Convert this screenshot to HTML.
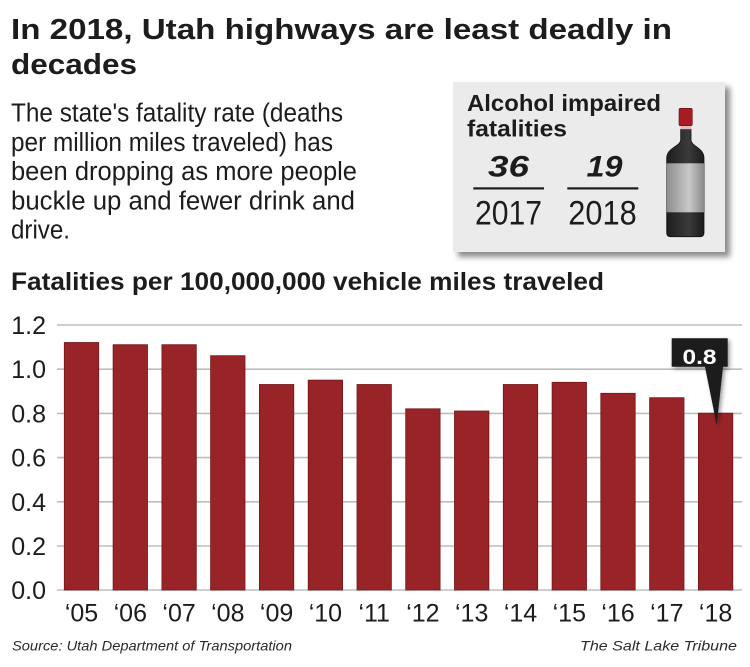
<!DOCTYPE html>
<html>
<head>
<meta charset="utf-8">
<style>
html,body{margin:0;padding:0;background:#fff;}
svg{display:block;}
text{font-family:"Liberation Sans",Arial,sans-serif;fill:#1c1c1c;}
</style>
</head>
<body>
<svg width="750" height="667" viewBox="0 0 750 667" xmlns="http://www.w3.org/2000/svg">
<defs>
<filter id="sh" x="-10%" y="-10%" width="130%" height="130%">
<feDropShadow dx="5" dy="5" stdDeviation="3" flood-color="#000" flood-opacity="0.45"/>
</filter>
<filter id="sh2" x="-20%" y="-20%" width="150%" height="150%">
<feDropShadow dx="2" dy="2" stdDeviation="2" flood-color="#000" flood-opacity="0.4"/>
</filter>
<linearGradient id="lab" x1="0" x2="1" y1="0" y2="0">
<stop offset="0" stop-color="#8e8e8e"/>
<stop offset="0.6" stop-color="#c8c8c8"/>
<stop offset="1" stop-color="#8a8a8a"/>
</linearGradient>
<linearGradient id="glass" x1="0" x2="1" y1="0" y2="0">
<stop offset="0" stop-color="#1e1e1e"/>
<stop offset="0.6" stop-color="#3a3a3a"/>
<stop offset="1" stop-color="#1a1a1a"/>
</linearGradient>
</defs>

<!-- Title -->
<text x="11" y="39" font-size="29" font-weight="bold" textLength="661" lengthAdjust="spacingAndGlyphs">In 2018, Utah highways are least deadly in</text>
<text x="11" y="74" font-size="29" font-weight="bold" textLength="126" lengthAdjust="spacingAndGlyphs">decades</text>

<!-- Subtitle -->
<g font-size="25.5">
<text x="11" y="121.7" textLength="332" lengthAdjust="spacingAndGlyphs">The state's fatality rate (deaths</text>
<text x="11" y="150.9" textLength="322" lengthAdjust="spacingAndGlyphs">per million miles traveled) has</text>
<text x="11" y="180.1" textLength="346" lengthAdjust="spacingAndGlyphs">been dropping as more people</text>
<text x="11" y="209.3" textLength="344" lengthAdjust="spacingAndGlyphs">buckle up and fewer drink and</text>
<text x="11" y="238.5" textLength="59" lengthAdjust="spacingAndGlyphs">drive.</text>
</g>

<!-- Info box -->
<rect x="453" y="82" width="272" height="170" fill="#ebebeb" filter="url(#sh)"/>
<text x="467" y="111" font-size="23" font-weight="bold" textLength="194" lengthAdjust="spacingAndGlyphs">Alcohol impaired</text>
<text x="467" y="136.7" font-size="23" font-weight="bold" textLength="100" lengthAdjust="spacingAndGlyphs">fatalities</text>
<text x="488" y="176.7" font-size="30" font-weight="bold" font-style="italic" textLength="41" lengthAdjust="spacingAndGlyphs">36</text>
<text x="586.5" y="176.7" font-size="30" font-weight="bold" font-style="italic" textLength="36" lengthAdjust="spacingAndGlyphs">19</text>
<rect x="473.3" y="187.3" width="70.7" height="2.2" fill="#1c1c1c"/>
<rect x="567.3" y="187.3" width="71" height="2.2" fill="#1c1c1c"/>
<text x="475" y="224.3" font-size="34" textLength="67" lengthAdjust="spacingAndGlyphs">2017</text>
<text x="568.3" y="224.3" font-size="34" textLength="68.4" lengthAdjust="spacingAndGlyphs">2018</text>

<!-- Bottle -->
<path d="M680.7,129.3 L691,129.3 L691,140 C691,146 704,148 704,158 L704,232.7 Q704,236.7 700,236.7 L670.7,236.7 Q666.7,236.7 666.7,232.7 L666.7,158 C666.7,148 680.7,146 680.7,140 Z" fill="url(#glass)" stroke="#111" stroke-width="0.8"/>
<rect x="666.7" y="163.3" width="37.3" height="49" fill="url(#lab)"/>
<rect x="680.7" y="125.7" width="10.3" height="3.6" fill="#e6b8b8"/>
<rect x="679" y="108.3" width="13.3" height="17.4" rx="1.5" fill="#a61c22" stroke="#6a0e12" stroke-width="0.6"/>

<!-- Chart title -->
<text x="11" y="290" font-size="25" font-weight="bold" textLength="593" lengthAdjust="spacingAndGlyphs">Fatalities per 100,000,000 vehicle miles traveled</text>

<!-- Gridlines -->
<g stroke="#bdbdbd" stroke-width="1.6">
<line x1="57" x2="742" y1="325" y2="325"/>
<line x1="57" x2="742" y1="369.2" y2="369.2"/>
<line x1="57" x2="742" y1="413.4" y2="413.4"/>
<line x1="57" x2="742" y1="457.6" y2="457.6"/>
<line x1="57" x2="742" y1="501.8" y2="501.8"/>
<line x1="57" x2="742" y1="546" y2="546"/>
<line x1="57" x2="742" y1="590" y2="590"/>
</g>

<!-- Y labels -->
<g font-size="25" text-anchor="end">
<text x="46" y="334">1.2</text>
<text x="46" y="378.2">1.0</text>
<text x="46" y="422.4">0.8</text>
<text x="46" y="466.6">0.6</text>
<text x="46" y="510.8">0.4</text>
<text x="46" y="555">0.2</text>
<text x="46" y="599">0.0</text>
</g>

<!-- Bars -->
<g fill="#992428" stroke="#741518" stroke-width="0.8">
<rect x="64.3" y="342.5" width="34.4" height="247.5"/>
<rect x="113.1" y="344.7" width="34.4" height="245.3"/>
<rect x="161.9" y="344.7" width="34.4" height="245.3"/>
<rect x="210.6" y="355.7" width="34.4" height="234.3"/>
<rect x="259.4" y="384.5" width="34.4" height="205.5"/>
<rect x="308.2" y="380.1" width="34.4" height="209.9"/>
<rect x="357" y="384.5" width="34.4" height="205.5"/>
<rect x="405.7" y="408.8" width="34.4" height="181.2"/>
<rect x="454.5" y="411" width="34.4" height="179"/>
<rect x="503.3" y="384.5" width="34.4" height="205.5"/>
<rect x="552.1" y="382.3" width="34.4" height="207.7"/>
<rect x="600.8" y="393.3" width="34.4" height="196.7"/>
<rect x="649.6" y="397.7" width="34.4" height="192.3"/>
<rect x="698.4" y="413.2" width="34.4" height="176.8"/>
</g>

<!-- X labels -->
<g font-size="25" text-anchor="middle">
<text x="81.5" y="621.7">‘05</text>
<text x="130.3" y="621.7">‘06</text>
<text x="179.1" y="621.7">‘07</text>
<text x="227.8" y="621.7">‘08</text>
<text x="276.6" y="621.7">‘09</text>
<text x="325.4" y="621.7">‘10</text>
<text x="374.2" y="621.7">‘11</text>
<text x="422.9" y="621.7">‘12</text>
<text x="471.7" y="621.7">‘13</text>
<text x="520.5" y="621.7">‘14</text>
<text x="569.3" y="621.7">‘15</text>
<text x="618" y="621.7">‘16</text>
<text x="666.8" y="621.7">‘17</text>
<text x="715.6" y="621.7">‘18</text>
</g>

<!-- Annotation -->
<g filter="url(#sh2)">
<path d="M671.7,338.3 L727.7,338.3 L727.7,366.7 L723,366.7 L716.7,425 L705,366.7 L671.7,366.7 Z" fill="#1a1a1a"/>
</g>
<text x="699.5" y="364" font-size="21" font-weight="bold" text-anchor="middle" style="fill:#fff" textLength="34" lengthAdjust="spacingAndGlyphs">0.8</text>

<!-- Footer -->
<text x="12" y="650.7" font-size="14" font-style="italic" textLength="280" lengthAdjust="spacingAndGlyphs" style="fill:#2a2a2a">Source: Utah Department of Transportation</text>
<text x="580" y="650.7" font-size="14" font-style="italic" textLength="157" lengthAdjust="spacingAndGlyphs" style="fill:#2a2a2a">The Salt Lake Tribune</text>
</svg>
</body>
</html>
